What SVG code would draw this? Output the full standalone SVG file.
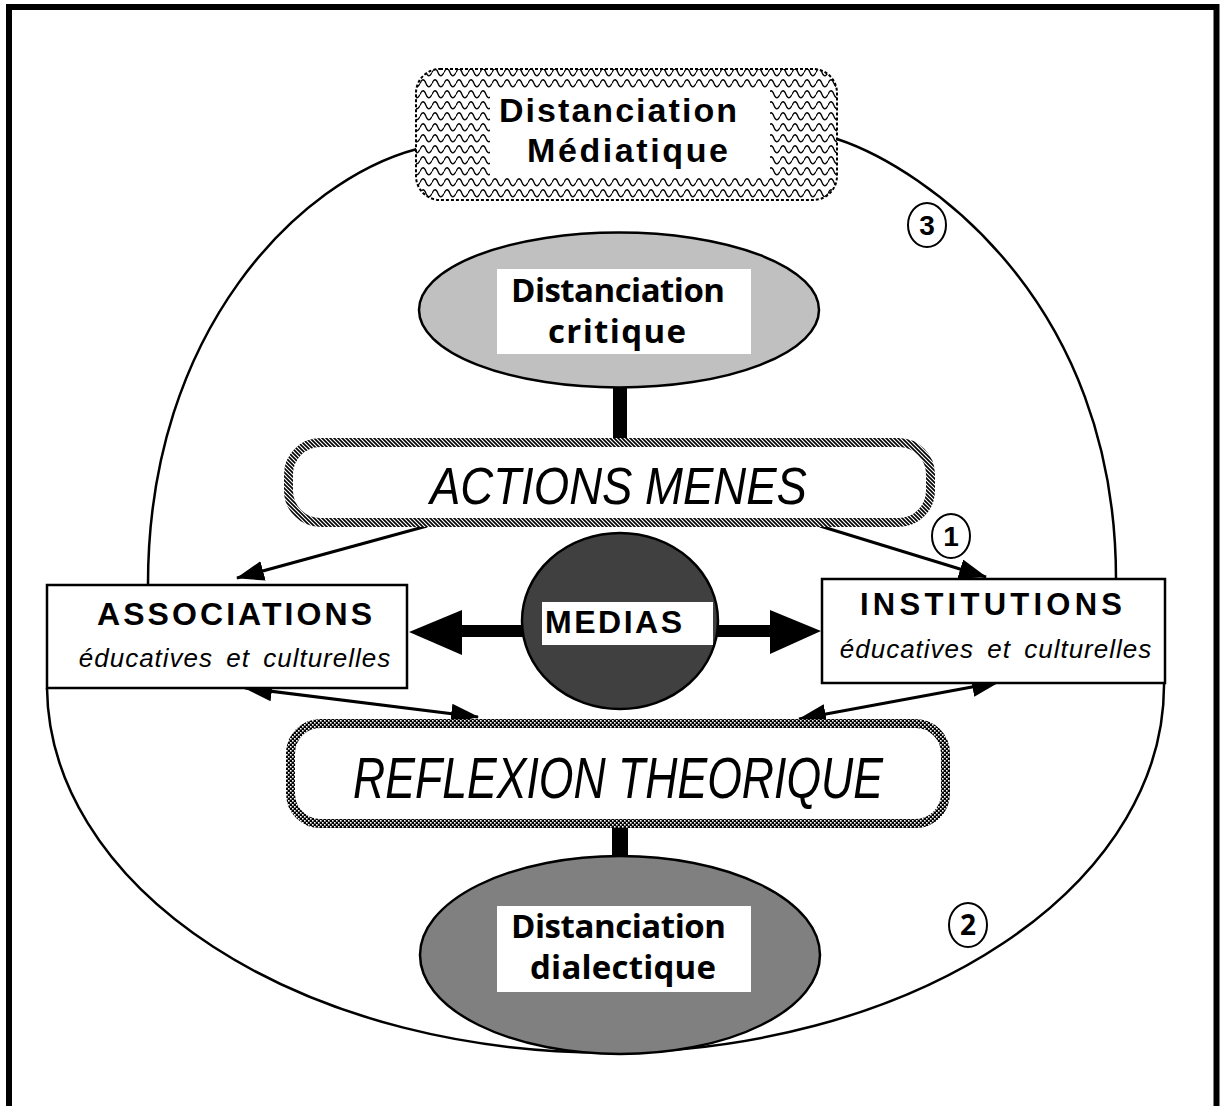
<svg xmlns="http://www.w3.org/2000/svg" width="1223" height="1106" viewBox="0 0 1223 1106">
<defs>
<style>
.bold{font-family:"Liberation Sans",Arial,sans-serif;font-weight:bold;fill:#000}
.hum{font-family:"Open Sans","Noto Sans",sans-serif;font-weight:700;fill:#000}
.ital{font-family:"Liberation Sans",Arial,sans-serif;font-style:italic;fill:#000}
.sub{font-family:"Liberation Sans",Arial,sans-serif;font-style:italic;fill:#000;font-size:26px;letter-spacing:1px;word-spacing:5px}
.thin{fill:none;stroke:#000;stroke-width:3}
.curve{fill:none;stroke:#000;stroke-width:2.5}
.bar{fill:#000}
.num{fill:#fff;stroke:#000;stroke-width:2}
</style>
<pattern id="wave" width="12" height="11" patternUnits="userSpaceOnUse">
<rect width="12" height="11" fill="#fff"/>
<path d="M0,6.5 C2,1.5 4,1.5 6,6.5 S10,10.5 12,6.5" fill="none" stroke="#000" stroke-width="1.3"/>
</pattern>
<pattern id="hatch" width="4" height="4" patternUnits="userSpaceOnUse">
<rect width="4" height="4" fill="#fff"/>
<path d="M-1,3 L1,5 M0,0 L4,4 M3,-1 L5,1" stroke="#000" stroke-width="1.6"/>
</pattern>
<pattern id="check" width="4" height="4" patternUnits="userSpaceOnUse">
<rect width="4" height="4" fill="#000"/>
<rect x="0" y="0" width="1.6" height="1.6" fill="#fff"/>
<rect x="2" y="2" width="1.6" height="1.6" fill="#fff"/>
</pattern>
<marker id="ah" viewBox="0 0 28 20" refX="27" refY="10" markerWidth="28" markerHeight="20" markerUnits="userSpaceOnUse" orient="auto-start-reverse">
<path d="M0,0 L28,10 L0,20 z" fill="#000"/>
</marker>
</defs>
<rect x="0" y="0" width="1223" height="1106" fill="#fff"/>
<rect id="frame" x="9" y="7" width="1207.5" height="1120" fill="none" stroke="#000" stroke-width="6"/>

<g id="connectors">
<path class="curve" d="M417,149 C300,180 148,330 148,584"/>
<path class="curve" d="M837,139 C925,168 1116,300 1116,579"/>
<path class="curve" d="M47,688 A558.5 367 0 0 0 1164,683"/>
<rect class="bar" x="613" y="386" width="14" height="54"/>
<rect class="bar" x="612" y="826" width="16" height="33"/>
<line class="thin" x1="427" y1="526" x2="237" y2="578" marker-end="url(#ah)"/>
<line class="thin" x1="820" y1="526" x2="986" y2="577" marker-end="url(#ah)"/>
<line class="thin" x1="245" y1="688" x2="478" y2="717" marker-start="url(#ah)" marker-end="url(#ah)"/>
<line class="thin" x1="999" y1="682" x2="799" y2="719" marker-start="url(#ah)" marker-end="url(#ah)"/>
<rect class="bar" x="455" y="625" width="70" height="12"/>
<path class="bar" d="M409,632 L462,610 L462,655 z"/>
<rect class="bar" x="715" y="625" width="60" height="12"/>
<path class="bar" d="M821,631 L770,610 L770,654 z"/>
</g>

<g id="n-mediatique">
<rect x="416" y="69" width="421" height="131" rx="24" fill="url(#wave)" stroke="#000" stroke-width="2" stroke-dasharray="3 2"/>
<rect x="490" y="88" width="280" height="90" fill="#fff"/>
<text class="bold" x="618" y="122" font-size="34" text-anchor="middle" textLength="238" lengthAdjust="spacing">Distanciation</text>
<text class="bold" x="627.5" y="162" font-size="34" text-anchor="middle" textLength="201" lengthAdjust="spacing">Médiatique</text>
</g>

<g id="n-critique">
<ellipse cx="619" cy="310" rx="200" ry="77.5" fill="#c0c0c0" stroke="#000" stroke-width="2.5"/>
<rect x="497" y="269" width="254" height="85" fill="#fff"/>
<text class="hum" x="618" y="302" font-size="33" text-anchor="middle" textLength="214" lengthAdjust="spacing">Distanciation</text>
<text class="hum" x="617" y="343" font-size="33" text-anchor="middle" textLength="138" lengthAdjust="spacing">critique</text>
</g>

<g id="n-actions">
<rect x="288.5" y="442.5" width="642" height="80" rx="32" fill="#fff" stroke="url(#hatch)" stroke-width="9"/>
<text class="ital" x="618.5" y="504" font-size="52" text-anchor="middle" textLength="377" lengthAdjust="spacingAndGlyphs">ACTIONS MENES</text>
</g>

<g id="n-associations">
<rect x="47" y="585" width="360" height="103" fill="#fff" stroke="#000" stroke-width="2.5"/>
<text class="bold" x="234.5" y="625" font-size="32" text-anchor="middle" textLength="275" lengthAdjust="spacing">ASSOCIATIONS</text>
<text class="sub" x="235" y="667" text-anchor="middle">éducatives et culturelles</text>
</g>

<g id="n-institutions">
<rect x="822" y="579" width="343" height="104" fill="#fff" stroke="#000" stroke-width="2.5"/>
<text class="bold" x="991" y="615" font-size="31" text-anchor="middle" textLength="262" lengthAdjust="spacing">INSTITUTIONS</text>
<text class="sub" x="996" y="658" text-anchor="middle">éducatives et culturelles</text>
</g>

<g id="n-medias">
<ellipse cx="620" cy="621" rx="98" ry="88" fill="#404040" stroke="#000" stroke-width="2.5"/>
<rect x="542" y="602" width="171" height="43" fill="#fff"/>
<text class="bold" x="613.5" y="633" font-size="32" text-anchor="middle" textLength="137" lengthAdjust="spacing">MEDIAS</text>
</g>

<g id="n-reflexion">
<rect x="290.5" y="723.5" width="655" height="100" rx="30" fill="#fff" stroke="url(#check)" stroke-width="9"/>
<text class="ital" x="618" y="798" font-size="58" text-anchor="middle" textLength="530" lengthAdjust="spacingAndGlyphs">REFLEXION THEORIQUE</text>
</g>

<g id="n-dialectique">
<ellipse cx="620" cy="955" rx="200" ry="99" fill="#808080" stroke="#000" stroke-width="2.5"/>
<rect x="497" y="906" width="254" height="86" fill="#fff"/>
<text class="hum" x="618.5" y="938" font-size="33" text-anchor="middle" textLength="215" lengthAdjust="spacing">Distanciation</text>
<text class="hum" x="623" y="979" font-size="33" text-anchor="middle" textLength="186" lengthAdjust="spacing">dialectique</text>
</g>

<g id="n-num1">
<ellipse class="num" cx="951" cy="536" rx="19" ry="22"/>
<text class="bold" x="951" y="546" font-size="28" text-anchor="middle">1</text>
</g>
<g id="n-num2">
<ellipse class="num" cx="968" cy="925" rx="19" ry="22"/>
<text class="hum" x="968" y="935" font-size="28" text-anchor="middle">2</text>
</g>
<g id="n-num3">
<ellipse class="num" cx="927" cy="225" rx="19" ry="22"/>
<text class="bold" x="927" y="235" font-size="28" text-anchor="middle">3</text>
</g>
</svg>
